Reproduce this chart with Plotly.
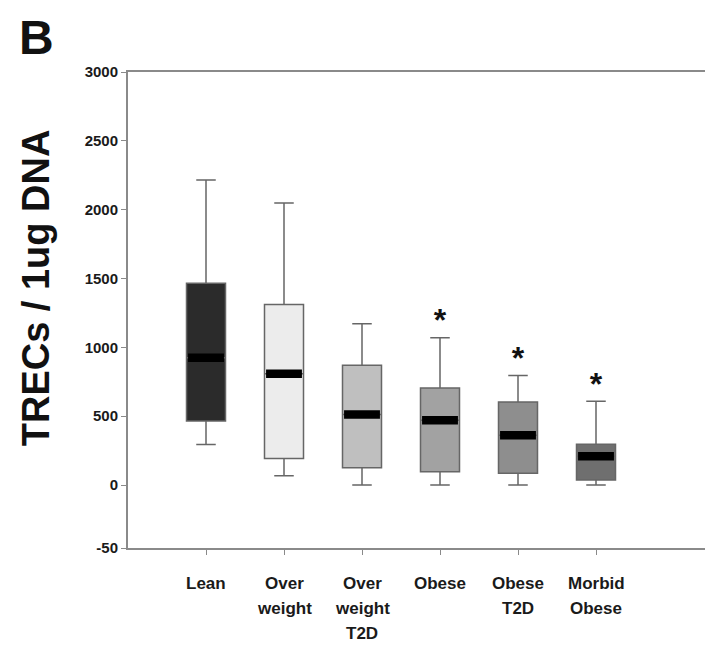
import plotly.graph_objects as go

groups = ["Lean", "Over<br>weight", "Over<br>weight<br>T2D", "Obese", "Obese<br>T2D", "Morbid<br>Obese"]
upper = [2215, 2049, 1172, 1070, 795, 609]
q3 = [1466, 1312, 870, 705, 604, 297]
median = [925, 809, 512, 471, 362, 210]
q1 = [466, 193, 125, 97, 85, 36]
lower = [295, 67, 0, 0, 0, 0]
significant = [False, False, False, True, True, True]
fills = ["#2b2b2b", "#ececec", "#bfbfbf", "#a2a2a2", "#8e8e8e", "#6f6f6f"]

y_tick_vals = [-457, 0, 500, 1000, 1500, 2000, 2500, 3000]
y_tick_text = ["-50", "0", "500", "1000", "1500", "2000", "2500", "3000"]

box_w = 0.5
fig = go.Figure()
for i, g in enumerate(groups):
    fig.add_trace(go.Box(
        x=[i], q1=[q1[i]], median=[median[i]], q3=[q3[i]],
        lowerfence=[lower[i]], upperfence=[upper[i]],
        width=box_w, whiskerwidth=0.5,
        fillcolor=fills[i], line=dict(color="#666666", width=1.5),
        boxpoints=False, showlegend=False, hoverinfo="skip",
    ))
    fig.add_trace(go.Scatter(
        x=[i - box_w / 2 + 0.02, i + box_w / 2 - 0.02], y=[median[i], median[i]],
        mode="lines", line=dict(color="#000000", width=8.5),
        showlegend=False, hoverinfo="skip",
    ))

star_x = [i for i in range(len(groups)) if significant[i]]
star_y = [upper[i] + 105 for i in star_x]
fig.add_trace(go.Scatter(
    x=star_x, y=star_y, mode="text", text=["<b>*</b>"] * len(star_x),
    textfont=dict(family="Liberation Sans", size=32, color="#111111"),
    textposition="middle center", showlegend=False, hoverinfo="skip",
))

# category labels (one line per annotation for exact line spacing)
for i, g in enumerate(groups):
    for j, part in enumerate(g.split("<br>")):
        fig.add_annotation(text="<b>" + part + "</b>", x=i, xref="x", y=0, yref="paper",
                           xanchor="center", yanchor="middle", yshift=-35 - 25 * j,
                           showarrow=False, font=dict(family="Liberation Sans", size=17, color="#1a1a1a"))

fig.add_annotation(text="<b>B</b>", xref="paper", yref="paper", x=-0.157, y=1.0,
                   xanchor="center", yanchor="top", yshift=63,
                   showarrow=False, font=dict(family="Liberation Sans", size=48, color="#111"))
fig.add_annotation(text="<b>TRECs / 1ug DNA</b>", xref="paper", yref="paper", x=-0.157, y=0.546,
                   xanchor="center", yanchor="middle", textangle=-90,
                   showarrow=False, font=dict(family="Liberation Sans", size=38, color="#111"))

fig.update_layout(
    width=705, height=645,
    margin=dict(l=120, r=0, t=64, b=105),
    paper_bgcolor="white", plot_bgcolor="white",
    font=dict(family="Liberation Sans", color="#1a1a1a"),
    xaxis=dict(
        range=[-1, 6.5], tickmode="array", tickvals=list(range(len(groups))),
        showticklabels=False, automargin=False,
        showline=True, linecolor="#8a8a8a", linewidth=2, mirror=True,
        ticks="outside", ticklen=5, tickcolor="#8a8a8a", tickwidth=1,
        showgrid=False, zeroline=False,
    ),
    yaxis=dict(
        range=[-457, 3000], tickmode="array", tickvals=y_tick_vals,
        ticktext=["<b>" + t + "</b>" for t in y_tick_text],
        tickfont=dict(size=15, color="#1a1a1a"), automargin=False,
        showline=True, linecolor="#8a8a8a", linewidth=2,
        ticks="outside", ticklen=5, tickcolor="#8a8a8a", tickwidth=1,
        showgrid=False, zeroline=False,
    ),
)

fig.write_html("out.html")
